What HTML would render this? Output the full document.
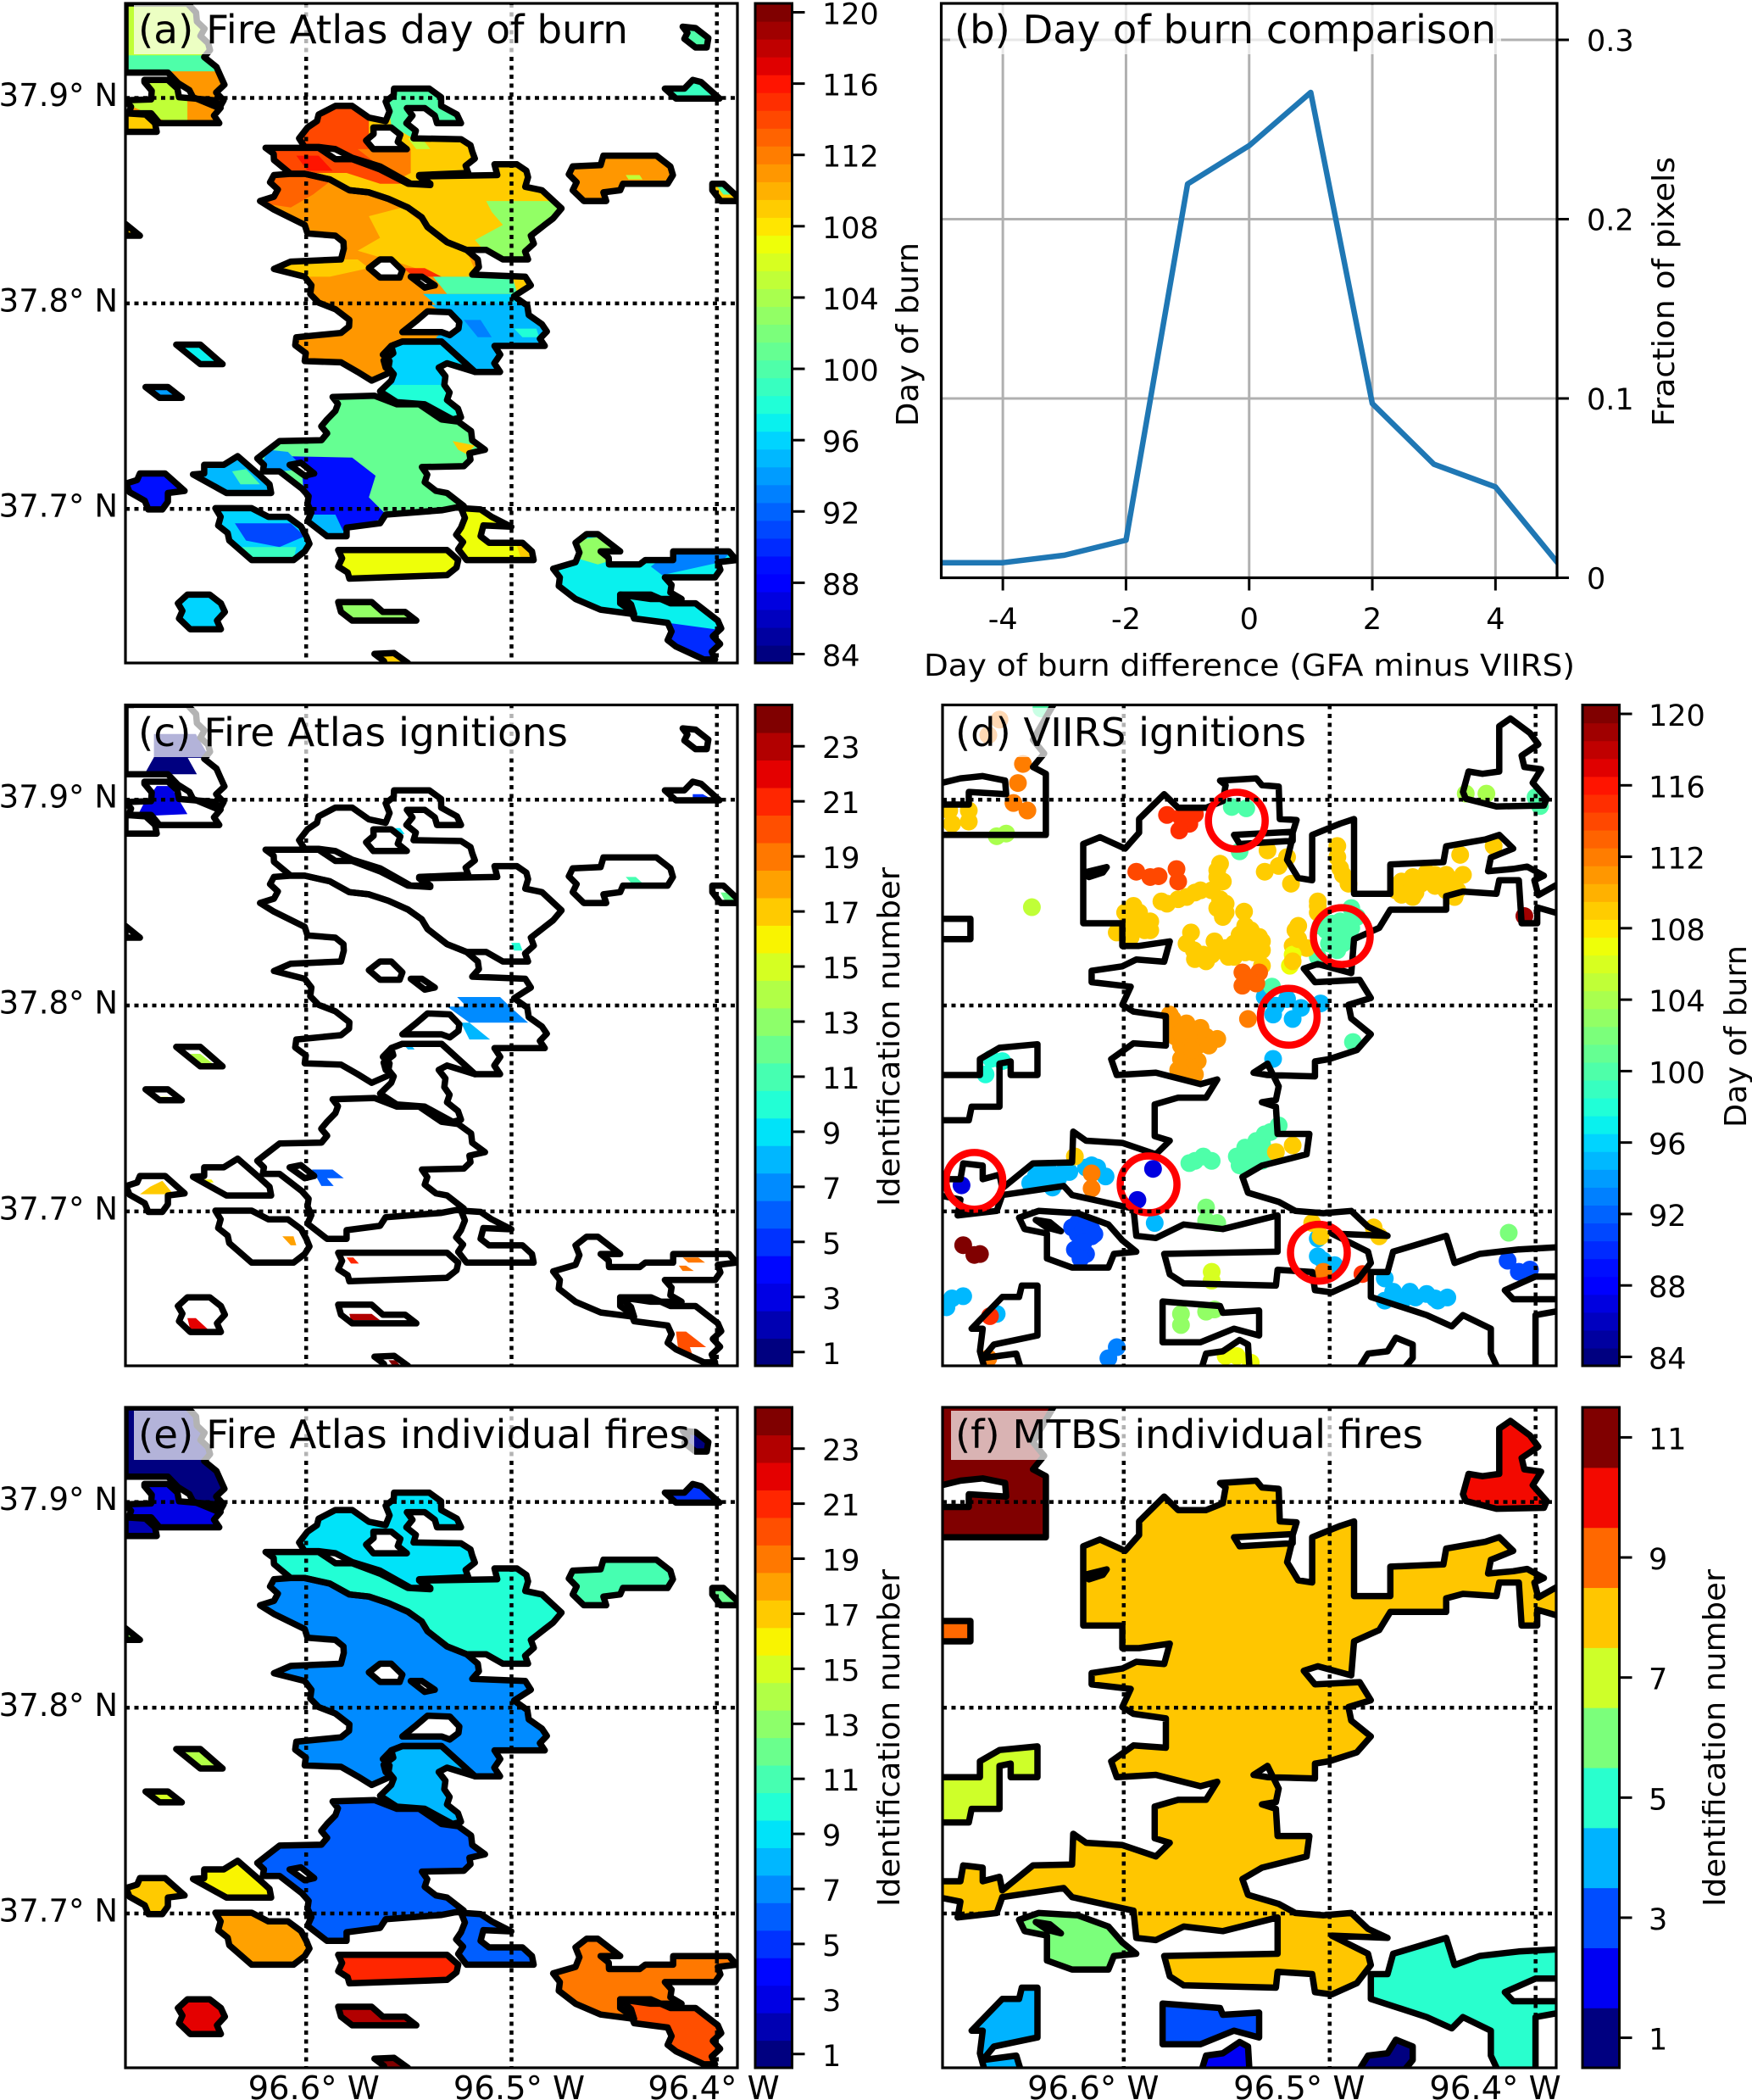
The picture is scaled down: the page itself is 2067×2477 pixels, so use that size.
<!DOCTYPE html>
<html lang="en">
<head>
<meta charset="utf-8">
<title>Fire Atlas and VIIRS / MTBS comparison</title>
<style>
html,body{margin:0;padding:0;background:#fff;width:2067px;height:2477px;overflow:hidden}
svg{display:block}
text{font-family:"DejaVu Sans","Liberation Sans",sans-serif;fill:#000}
.ttl{font-size:46px}
.lab{font-size:36px}
</style>
</head>
<body>
<svg xmlns="http://www.w3.org/2000/svg" width="2067" height="2477" viewBox="0 0 2067 2477">
<defs>
<clipPath id="clip-a"><rect x="148" y="4" width="722" height="778"/></clipPath>
<clipPath id="clip-b"><rect x="1110.5" y="4" width="726.5" height="677.5"/></clipPath>
<clipPath id="clip-c"><rect x="148" y="831.5" width="722" height="779.5"/></clipPath>
<clipPath id="clip-d"><rect x="1112" y="831.5" width="724" height="779.5"/></clipPath>
<clipPath id="clip-e"><rect x="148" y="1660" width="722" height="779"/></clipPath>
<clipPath id="clip-f"><rect x="1112" y="1660" width="724" height="779"/></clipPath>
</defs>

<g>
<g id="marks-a" clip-path="url(#clip-a)"></g>
<rect x="158" y="6" width="588" height="58" fill="#fff" fill-opacity="0.7"/>
<text class="ttl" x="163" y="51" textLength="578" lengthAdjust="spacingAndGlyphs">(a) Fire Atlas day of burn</text>
<rect x="148" y="4" width="722" height="778" fill="none" stroke="#000" stroke-width="3.2"/>
</g>

<g>
<g id="marks-b" clip-path="url(#clip-b)"></g>
<rect x="1121" y="6" width="650" height="58" fill="#fff" fill-opacity="0.7"/>
<text class="ttl" x="1126" y="51" textLength="639" lengthAdjust="spacingAndGlyphs">(b) Day of burn comparison</text>
<rect x="1110.5" y="4" width="726.5" height="677.5" fill="none" stroke="#000" stroke-width="3.2"/>
<text class="lab" x="1474" y="797" text-anchor="middle" textLength="768" lengthAdjust="spacingAndGlyphs">Day of burn difference (GFA minus VIIRS)</text>
<text class="lab" transform="translate(1083 503) rotate(-90)" textLength="217" lengthAdjust="spacingAndGlyphs">Day of burn</text>
<text class="lab" transform="translate(1975 503) rotate(-90)" textLength="318" lengthAdjust="spacingAndGlyphs">Fraction of pixels</text>
</g>

<g>
<g id="marks-c" clip-path="url(#clip-c)"></g>
<rect x="158" y="835" width="516" height="58" fill="#fff" fill-opacity="0.7"/>
<text class="ttl" x="163" y="880" textLength="507" lengthAdjust="spacingAndGlyphs">(c) Fire Atlas ignitions</text>
<rect x="148" y="831.5" width="722" height="779.5" fill="none" stroke="#000" stroke-width="3.2"/>
<text class="lab" transform="translate(1061 1423) rotate(-90)" textLength="400" lengthAdjust="spacingAndGlyphs">Identification number</text>
</g>

<g>
<g id="marks-d" clip-path="url(#clip-d)"></g>
<rect x="1122" y="835" width="424" height="58" fill="#fff" fill-opacity="0.7"/>
<text class="ttl" x="1127" y="880" textLength="414" lengthAdjust="spacingAndGlyphs">(d) VIIRS ignitions</text>
<rect x="1112" y="831.5" width="724" height="779.5" fill="none" stroke="#000" stroke-width="3.2"/>
<text class="lab" transform="translate(2060 1330) rotate(-90)" textLength="215" lengthAdjust="spacingAndGlyphs">Day of burn</text>
</g>

<g>
<g id="marks-e" clip-path="url(#clip-e)"></g>
<rect x="158" y="1664" width="661" height="58" fill="#fff" fill-opacity="0.7"/>
<text class="ttl" x="163" y="1708" textLength="651" lengthAdjust="spacingAndGlyphs">(e) Fire Atlas individual fires</text>
<rect x="148" y="1660" width="722" height="779" fill="none" stroke="#000" stroke-width="3.2"/>
<text class="lab" transform="translate(1061 2249) rotate(-90)" textLength="398" lengthAdjust="spacingAndGlyphs">Identification number</text>
</g>

<g>
<g id="marks-f" clip-path="url(#clip-f)"></g>
<rect x="1122" y="1664" width="560" height="58" fill="#fff" fill-opacity="0.7"/>
<text class="ttl" x="1127" y="1708" textLength="552" lengthAdjust="spacingAndGlyphs">(f) MTBS individual fires</text>
<rect x="1112" y="1660" width="724" height="779" fill="none" stroke="#000" stroke-width="3.2"/>
<text class="lab" transform="translate(2035 2249) rotate(-90)" textLength="398" lengthAdjust="spacingAndGlyphs">Identification number</text>
</g>

<g id="axes"></g>
</svg>

<script>
/* ---------- panel (b) data ---------- */
const diffDays = [-5,-4,-3,-2,-1,0,1,2,3,4,5];
const pixelFractions = [0.0084,0.0084,0.0126,0.021,0.2196,0.241,0.2707,0.0972,0.0633,0.0507,0.0087];
const diffTicks = [-4,-2,0,2,4];
const fractionTicks = [0,0.1,0.2,0.3];
const fractionTickLabels = ['0','0.1','0.2','0.3'];

/* ---------- map axis ticks ---------- */
const lonTicks = [-96.6,-96.5,-96.4];
const lonTickLabels = ['96.6° W','96.5° W','96.4° W'];
const latTicks = [37.9,37.8,37.7];
const latTickLabels = ['37.9° N','37.8° N','37.7° N'];
const dayTicks = [84,88,92,96,100,104,108,112,116,120];
const idTicks24 = [1,3,5,7,9,11,13,15,17,19,21,23];
const idTicks11 = [1,3,5,7,9,11];

/* ---------- Fire Atlas perimeters, map-grid units (column, row), rings flattened ---------- */
const atlasFire1 = [[224,8,335,8,352,50,372,100,365,132,395,178,392,250,345,225,318,192,300,168,224,168]];
const atlasFire2 = [[258,190,258,185,300,185,320,225,385,232,392,285,285,285,270,262,230,262,224,232,270,230]];
const atlasFire3 = [[224,262,260,265,280,305,224,305]];
const atlasFire4 = [[705,205,768,205,825,285,782,285,760,250,728,250,740,320,825,322,845,350,838,400,750,405,770,425,735,425,680,385,630,365,600,345,570,340,545,340,535,320,550,295,570,265,600,245,630,245,660,272,690,280,690,235],[668,295,700,295,728,345,668,345,655,325]];
const atlasFire5 = [[475,342,570,342,600,368,630,368,680,392,730,425,770,428,750,408,890,405,885,380,925,380,945,410,940,432,970,440,1005,482,990,505,975,520,950,545,945,600,900,600,870,578,835,578,800,560,765,525,730,480,695,460,660,445,625,440,590,415,545,402,520,402,490,370]];
const atlasFire6 = [[490,405,520,402,545,402,590,415,625,440,660,445,695,460,730,480,765,525,800,560,835,578,855,600,845,635,940,640,950,660,920,685,970,750,975,800,885,800,895,860,850,860,790,790,720,790,700,800,690,850,700,860,665,880,640,860,610,838,545,835,530,780,610,770,625,740,600,715,570,700,555,680,545,640,490,622,520,605,610,600,615,575,600,545,550,540,545,520,490,485,465,465,490,455],[660,620,680,600,700,600,720,625,715,642,680,642],[735,640,755,640,778,660,760,665],[720,768,745,742,765,720,805,722,822,745,805,775,790,768]];
const atlasFire7 = [[720,790,790,790,850,860,800,840,785,850,795,890,800,925,825,965,810,970,760,935,710,930,680,905,700,880,695,850,685,820,700,800]];
const atlasFire8 = [[595,918,670,915,710,935,750,935,790,970,820,975,868,1040,840,1048,830,1078,755,1080,760,1115,780,1135,800,1140,830,1170,790,1180,690,1190,680,1210,620,1220,620,1240,585,1240,550,1205,550,1165,540,1130,500,1090,470,1090,460,1060,480,1040,500,1020,575,1018,585,970,600,950],[518,1075,538,1070,562,1095,545,1100]];
const atlasFire9 = [[825,1175,860,1178,880,1195,915,1218,865,1215,860,1240,875,1255,935,1255,955,1295,835,1295,820,1270,825,1220]];
const atlasFire10 = [[1080,360,1175,360,1200,385,1195,425,1115,425,1110,440,1080,445,1085,465,1045,465,1025,440,1025,385,1075,382]];
const atlasFire11 = [[1275,425,1295,425,1320,455,1325,465,1290,465,1275,440]];
const atlasFire12 = [[224,518,250,545,224,545]];
const atlasFire13 = [[1222,62,1245,65,1268,88,1265,110,1245,110,1225,90]];
const atlasFire14 = [[1190,205,1225,205,1240,185,1255,190,1288,228,1210,228]];
const atlasFire15 = [[315,797,358,797,398,842,358,842]];
const atlasFire16 = [[260,895,300,895,325,920,285,920]];
const atlasFire17 = [[225,1118,245,1110,250,1095,295,1095,330,1135,300,1140,300,1160,290,1178,265,1178]];
const atlasFire18 = [[345,1097,365,1095,365,1075,400,1075,425,1055,465,1100,485,1140,405,1140]];
const atlasFire19 = [[385,1175,450,1175,480,1195,515,1195,548,1240,545,1275,525,1295,450,1295,410,1250,390,1215]];
const atlasFire20 = [[605,1272,800,1272,820,1295,800,1330,625,1338,605,1310]];
const atlasFire21 = [[990,1315,1030,1300,1030,1255,1050,1235,1070,1235,1110,1275,1075,1275,1090,1305,1145,1305,1155,1295,1205,1295,1205,1275,1305,1275,1318,1295,1285,1300,1280,1335,1190,1335,1200,1370,1220,1385,1165,1385,1110,1375,1135,1420,1075,1410,1030,1385,1000,1355]];
const atlasFire22 = [[1110,1375,1165,1375,1200,1395,1245,1395,1285,1435,1280,1525,1260,1525,1210,1495,1195,1480,1195,1440,1135,1430,1110,1395]];
const atlasFire23 = [[318,1395,335,1375,375,1375,395,1395,395,1455,340,1455,320,1430]];
const atlasFire24 = [[605,1392,665,1392,685,1415,725,1415,745,1435,630,1435,610,1415]];
const atlasFire25 = [[670,1512,705,1510,730,1533,730,1545,690,1545]];
const atlasOutlines = [atlasFire1,atlasFire2,atlasFire3,atlasFire4,atlasFire5,atlasFire6,atlasFire7,atlasFire8,atlasFire9,atlasFire10,atlasFire11,atlasFire12,atlasFire13,atlasFire14,atlasFire15,atlasFire16,atlasFire17,atlasFire18,atlasFire19,atlasFire20,atlasFire21,atlasFire22,atlasFire23,atlasFire24,atlasFire25];

/* identification number per Fire Atlas fire (panel e) */
const atlasFireIds = [1,3,2,9,10,7,8,6,6,11,12,13,1,5,14,15,17,16,18,21,19,20,22,23,24];
/* base day of burn per Fire Atlas fire (panel a) */
const atlasFireDays = [105,111,109,109,109,111,96,101,107,111,109,109,100,99,97,94,89,95,96,107,97,97,96,103,109];

/* day-of-burn patches inside a fire: [fire index, day, ring] (panel a) */
const atlasDayPatches = [
[0,100,[224,128,370,128,395,170,224,170]],
[0,111,[300,165,395,165,395,250,345,225,320,195]],
[1,105,[255,190,300,185,335,230,335,280,295,280,225,240,265,230]],
[3,114,[530,240,660,240,660,345,680,385,720,410,640,380,580,345,530,345]],
[3,112,[640,345,735,345,735,400,720,410,680,385]],
[3,100,[690,200,830,200,830,290,750,300,745,325,700,290]],
[3,105,[730,320,755,320,770,345,745,345]],
[4,114,[470,340,570,340,600,368,630,368,680,392,730,425,680,425,620,400,550,400,510,400]],
[4,116,[530,360,570,360,595,395,550,395]],
[4,103,[870,465,1010,465,1010,510,950,600,880,600,850,555,900,520,880,490]],
[5,113,[485,405,545,405,590,420,560,450,520,480,470,470]],
[5,109,[660,500,720,480,765,525,835,580,855,640,790,640,720,610,640,580,680,550]],
[5,109,[490,600,640,600,660,620,590,640,500,640]],
[5,115,[722,620,760,620,790,640,740,640]],
[5,100,[775,640,945,640,955,665,915,680,800,680]],
[5,109,[918,645,945,645,945,675,925,675]],
[5,96,[757,680,930,680,930,700,780,705]],
[5,95,[770,705,930,700,985,760,985,805,905,805,905,870,845,870,780,780,820,745,790,720]],
[5,93,[830,740,860,740,880,780,855,780]],
[5,98,[920,760,960,760,965,780,935,780]],
[6,98,[680,890,800,890,830,970,760,940,700,930]],
[7,89,[540,1085,510,1055,630,1058,672,1100,660,1150,695,1195,620,1225,580,1240,545,1170]],
[7,94,[480,1040,515,1045,545,1085,500,1090,465,1080]],
[7,109,[810,1020,850,1030,835,1050,820,1040]],
[7,95,[550,1190,600,1190,620,1245,580,1245]],
[8,109,[925,1262,950,1262,950,1290,932,1290]],
[9,105,[1120,405,1145,405,1150,415,1125,415]],
[10,100,[1280,425,1300,425,1318,450,1295,450]],
[17,100,[415,1090,440,1085,465,1120,430,1120]],
[18,91,[420,1210,520,1210,545,1240,500,1265,440,1250]],
[18,99,[430,1265,530,1265,525,1295,450,1295]],
[20,103,[1030,1250,1080,1240,1110,1290,1070,1305,1030,1290]],
[20,93,[1200,1275,1310,1275,1290,1300,1185,1330,1165,1310]],
[21,90,[1195,1440,1280,1455,1285,1525,1260,1525,1195,1490]]
];

/* ignition patches: [identification number, ring] (panel c) */
const atlasIgnitions = [
[1,[275,75,350,75,375,130,275,130]],
[1,[275,129,335,129,352,168,258,168]],
[3,[280,195,305,195,335,260,245,265,255,240]],
[5,[1240,214,1258,214,1275,226,1240,226]],
[9,[707,292,716,292,724,306,716,306]],
[11,[1120,405,1138,405,1150,419,1130,419]],
[12,[1290,441,1300,441,1320,461,1298,461]],
[10,[915,557,930,557,935,575,920,575]],
[7,[818,682,895,682,915,707,945,741,840,741,800,704,835,704]],
[8,[825,741,840,741,877,780,840,780]],
[8,[722,792,735,792,742,803,730,803]],
[6,[558,1080,595,1080,615,1100,585,1100,597,1118,575,1118,565,1095]],
[14,[340,813,358,813,380,835,358,835]],
[15,[282,912,300,912,306,918,288,918]],
[17,[268,1120,290,1106,310,1137,250,1137]],
[16,[362,1103,378,1103,382,1110,368,1110]],
[18,[505,1234,525,1234,530,1255,520,1255]],
[21,[620,1283,632,1283,642,1297,628,1297]],
[23,[625,1413,665,1413,680,1428,628,1428]],
[22,[335,1423,350,1423,372,1449,340,1449]],
[19,[1222,1283,1250,1283,1262,1295,1232,1295]],
[19,[1215,1302,1228,1302,1242,1314,1222,1314]],
[20,[1210,1454,1228,1454,1264,1490,1235,1490,1240,1510,1215,1505]],
[24,[695,1520,708,1520,716,1532,702,1532]]
];

/* ---------- MTBS perimeters, map-grid units ---------- */
const mtbsFire1 = [[860,1510,880,1470,915,1465,930,1435,960,1450,960,1480,940,1510]];
const mtbsFire2 = [[580,1510,590,1470,620,1465,650,1440,665,1450,668,1510]];
const mtbsFire3 = [[512,1355,615,1365,620,1380,685,1375,685,1430,640,1415,580,1445,512,1445]];
const mtbsFire4 = [[170,1415,225,1345,255,1345,260,1320,288,1320,288,1430,210,1450,190,1480,250,1470,260,1510,195,1510,185,1465,190,1415]];
const mtbsFire5 = [[925,1245,1020,1210,1035,1270,1080,1250,1150,1240,1225,1235,1225,1300,1180,1300,1125,1330,1140,1350,1225,1350,1225,1375,1180,1385,1180,1510,1115,1510,1100,1470,1100,1415,1050,1385,1030,1410,985,1385,885,1345,885,1290,915,1290]];
const mtbsFire6 = [[255,1170,290,1155,360,1160,415,1185,440,1220,465,1245,425,1250,415,1280,350,1280,305,1260,305,1205,265,1195],[285,1175,310,1180,330,1200,305,1192]];
const mtbsFire7 = [[110,855,185,855,185,820,220,795,288,787,288,855,240,855,240,825,220,830,220,925,170,925,165,955,110,955]];
const mtbsFire8 = [[615,205,680,200,690,215,720,218,722,290,752,292,745,320,742,345,735,380,755,420,780,425,780,325,830,300,855,290,855,455,920,455,920,390,1015,385,1020,350,1090,335,1115,325,1140,355,1100,375,1095,405,1140,400,1165,395,1195,415,1178,425,1185,458,1225,430,1225,500,1183,485,1183,520,1155,520,1150,425,1115,425,1110,455,1050,450,1020,460,1020,490,920,490,900,530,855,555,850,630,790,610,765,620,785,650,865,645,885,685,845,700,850,730,885,765,860,800,810,820,785,825,785,858,700,855,675,850,700,830,720,880,715,910,690,915,715,925,718,985,775,985,770,1030,690,1055,655,1080,665,1115,720,1135,750,1155,800,1160,850,1155,880,1190,915,1210,815,1205,880,1245,885,1270,860,1310,815,1335,785,1330,780,1290,718,1285,715,1320,550,1315,525,1295,515,1250,718,1245,718,1165,620,1195,550,1185,500,1215,465,1210,460,1150,350,1120,335,1100,225,1120,215,1155,145,1165,150,1130,110,1120,110,1085,150,1085,155,1050,190,1055,190,1085,220,1075,225,1105,280,1050,350,1048,352,980,375,1000,440,1005,500,1030,525,1000,498,990,498,920,540,905,590,905,610,865,580,875,500,850,430,855,420,820,460,785,518,790,518,725,460,715,440,700,455,660,385,650,385,625,440,615,465,600,515,605,525,560,470,570,440,570,440,520,370,520,370,345,400,330,445,355,470,320,470,290,515,235,540,265,590,265,620,250,625,215],[640,325,745,318,745,338,650,345],[372,408,412,396,405,408,380,418]];
const mtbsFire9 = [[110,510,168,510,168,555,110,555]];
const mtbsFire10 = [[1115,85,1135,68,1170,100,1185,125,1155,150,1160,175,1190,180,1175,210,1200,245,1195,260,1110,262,1055,245,1050,230,1060,185,1085,190,1115,185]];
const mtbsFire11 = [[110,30,320,30,280,115,300,145,280,175,303,190,303,325,110,325,110,258,165,258,165,230,232,235,230,205,190,195,150,200,110,212]];
const mtbsOutlines = [mtbsFire1,mtbsFire2,mtbsFire3,mtbsFire4,mtbsFire5,mtbsFire6,mtbsFire7,mtbsFire8,mtbsFire9,mtbsFire10,mtbsFire11];
const mtbsFireIds = [1,2,3,4,5,6,7,8,9,10,11];

/* ---------- VIIRS ignition detections, map-grid units, grouped by day of burn ---------- */
const viirsDay84to91 = [[87,152,1105],[87,495,1068],[87,467,1138],[91,360,1190],[91,375,1195],[91,385,1220],[91,360,1215],[91,370,1255],[91,355,1250],[91,375,1260],[91,1130,1275],[91,1150,1300],[91,1170,1295],[91,350,1200],[91,370,1205],[91,385,1205],[91,370,1235],[91,390,1215],[91,365,1270]];
const viirsDay93to98 = [[95,695,680],[95,735,685],[95,710,720],[95,715,700],[95,760,705],[95,745,730],[95,795,695],[95,710,820],[98,205,820],[98,195,855],[98,225,825],[95,285,1085],[95,310,1075],[95,335,1075],[95,315,1110],[95,375,1065],[95,395,1065],[95,410,1085],[95,300,1095],[95,498,1190],[95,790,1225],[95,790,1265],[95,820,1285],[95,800,1275],[95,910,1315],[95,925,1345],[95,910,1365],[95,945,1360],[95,965,1358],[95,985,1350],[95,1005,1365],[95,1022,1358],[95,135,1360],[95,155,1355],[95,125,1380],[95,215,1395],[93,430,1470],[93,415,1495],[95,275,1100],[95,290,1070],[95,325,1090],[95,345,1075],[95,300,1075],[95,385,1060],[95,1000,1360],[95,930,1355],[95,955,1345]];
const viirsDay100to105 = [[100,295,30],[104,215,318],[104,232,312],[100,636,252],[100,662,255],[100,650,352],[100,815,515],[100,840,515],[100,860,500],[100,850,480],[100,795,520],[100,820,545],[100,845,545],[100,825,575],[100,790,590],[100,830,530],[100,708,657],[100,853,782],[100,570,1050],[100,600,1050],[100,650,1045],[100,665,1035],[100,680,1005],[100,695,990],[100,720,970],[100,660,1065],[100,690,1050],[100,660,1020],[102,590,1155],[102,590,1185],[102,610,1190],[102,1132,1212],[104,1055,222],[104,1092,222],[100,1188,250],[100,1180,230],[105,278,478],[103,545,1395],[103,545,1420],[103,590,1390],[103,605,1385],[100,650,1060],[100,670,1055],[100,680,1020],[100,700,1030],[100,690,1010],[100,705,985],[100,645,1040],[100,585,1040],[100,560,1055],[100,830,510],[100,805,530],[100,835,560],[100,810,560],[100,850,525]];
const viirsDay106to109 = [[109,130,260],[109,165,260],[109,135,290],[109,165,285],[109,700,350],[109,695,398],[109,720,385],[109,735,365],[109,742,425],[109,825,340],[109,825,365],[109,830,390],[109,845,425],[109,940,420],[109,940,450],[109,965,445],[109,985,400],[109,1010,410],[109,1030,425],[109,1050,405],[109,1045,360],[109,1105,340],[109,1035,455],[109,960,410],[109,1000,430],[109,615,380],[109,610,410],[109,620,420],[109,580,440],[109,555,455],[109,540,460],[109,510,465],[109,615,460],[109,625,490],[109,460,475],[109,445,490],[109,470,520],[109,490,510],[109,490,530],[109,450,520],[109,455,545],[109,430,535],[109,658,488],[109,563,535],[109,568,575],[109,570,595],[109,605,555],[109,600,585],[109,640,560],[109,630,590],[109,660,520],[109,660,555],[109,685,545],[109,690,575],[109,790,465],[109,790,490],[109,750,530],[109,745,565],[109,770,570],[109,690,610],[107,740,610],[107,745,585],[109,715,1030],[109,745,1015],[109,355,1040],[109,780,1190],[109,795,1220],[109,890,1200],[109,900,1220],[106,600,1300],[106,600,1320],[107,625,1490],[107,645,1490],[107,670,1505],[109,610,395],[109,600,440],[109,610,480],[109,625,470],[109,620,500],[109,520,470],[109,570,445],[109,470,500],[109,480,530],[109,450,500],[109,470,490],[109,640,590],[109,615,575],[109,585,585],[109,650,540],[109,670,530],[109,675,580],[109,690,555],[109,660,580],[109,555,560],[109,590,600],[109,625,570],[109,950,435],[109,975,425],[109,1020,440],[109,1020,405],[109,1040,440],[109,1000,405],[109,960,455],[109,930,440],[109,835,405],[109,790,475],[109,755,550],[109,745,600],[109,755,520]];
const viirsDay111to120 = [[112,220,55],[112,200,90],[112,262,155],[112,253,198],[112,245,243],[112,270,260],[115,520,270],[115,545,275],[115,570,268],[115,560,290],[115,542,305],[114,465,398],[114,490,410],[114,505,408],[114,537,392],[114,540,420],[113,655,625],[113,685,625],[113,655,655],[113,680,650],[113,665,640],[112,665,730],[111,525,720],[111,535,745],[111,535,770],[111,545,790],[111,545,820],[111,540,845],[111,570,855],[111,575,825],[111,575,790],[111,580,750],[111,610,775],[111,560,770],[112,385,1078],[112,385,1112],[120,155,1240],[120,175,1262],[120,185,1260],[112,800,1300],[115,870,1305],[119,1160,498],[115,203,1400],[112,200,1495],[111,530,730],[111,545,760],[111,550,805],[111,560,840],[111,545,850],[111,565,800],[111,590,770],[111,595,790],[111,555,740]];
const viirsGroups = [viirsDay84to91,viirsDay93to98,viirsDay100to105,viirsDay106to109,viirsDay111to120];

/* mismatch highlights in panel (d), map-grid units */
const highlightRings = [[645,283],[833,543],[738,725],[175,1095],[487,1103],[792,1257]];

/* ---------- layout ---------- */
const PANELS = {
  a:{l:148,r:870,t:4,b:782},
  b:{l:1110.5,r:1837,t:4,b:681.5},
  c:{l:148,r:870,t:831.5,b:1611},
  d:{l:1112,r:1836,t:831.5,b:1611},
  e:{l:148,r:870,t:1660,b:2439},
  f:{l:1112,r:1836,t:1660,b:2439}
};
const LON_MIN=-96.688, LON_MAX=-96.39, LAT_MIN=37.625, LAT_MAX=37.946;

/* ---------- helpers ---------- */
const NS='http://www.w3.org/2000/svg';
function svgEl(tag,parent,geom){
  const el=document.createElementNS(NS,tag);
  for(const k in geom){el.setAttribute(k,geom[k]);}
  parent.appendChild(el);
  return el;
}
function lerp(v,a,b,c,d){return c+(v-a)/(b-a)*(d-c);}
/* axis functions */
function lonX(lon,p){return lerp(lon,LON_MIN,LON_MAX,p.l,p.r);}
function latY(lat,p){return lerp(lat,LAT_MAX,LAT_MIN,p.t,p.b);}
function atlasX(u,p){return lerp(u,224,1320,p.l,p.r);}
function atlasY(v,p){return lerp(v,8,1533,p.t,p.b);}
function mtbsX(u,p){return lerp(u,118,1217,p.l,p.r);}
function mtbsY(v,p){return lerp(v,38,1497,p.t,p.b);}
function viirsY(v,p){return lerp(v,22,1512,p.t,p.b);}
function diffX(d){return lerp(d,-5,5,PANELS.b.l,PANELS.b.r);}
function fracY(f){return lerp(f,0,0.3,681.5,47);}

function jet(t){
  function seg(pts){
    for(let i=1;i<pts.length;i++){
      if(t<=pts[i][0]){return pts[i-1][1]+(t-pts[i-1][0])/(pts[i][0]-pts[i-1][0])*(pts[i][1]-pts[i-1][1]);}
    }
    return pts[pts.length-1][1];
  }
  const r=seg([[0,0],[.35,0],[.66,1],[.89,1],[1,.5]]);
  const g=seg([[0,0],[.125,0],[.375,1],[.64,1],[.91,0],[1,0]]);
  const b=seg([[0,.5],[.11,1],[.34,1],[.65,0],[1,0]]);
  return 'rgb('+Math.round(r*255)+','+Math.round(g*255)+','+Math.round(b*255)+')';
}
function dayColor(d){return jet((d-84)/36);}
function id24Color(i){return jet((i-1)/23);}
function id11Color(i){return jet((i-1)/10);}

/* grid-edge staircase: Fire Atlas perimeters follow raster cells, so steep edges are scalloped */
function ringPoints(ring,stairs){
  const out=[];
  const n=ring.length/2;
  for(let i=0;i<n;i++){
    const u0=ring[2*i],v0=ring[2*i+1];
    const u1=ring[(2*((i+1)%n))],v1=ring[(2*((i+1)%n))+1];
    out.push([u0,v0]);
    const du=u1-u0,dv=v1-v0;
    if(stairs&&Math.abs(dv)>=28&&Math.abs(dv)>Math.abs(du)*1.2&&Math.max(u0,u1)>224){
      const steps=Math.max(2,Math.round(Math.abs(dv)/19));
      for(let s=1;s<steps;s++){
        out.push([u0+du*s/steps+(s%2?7:-7),v0+dv*s/steps]);
      }
    }
  }
  return out;
}
function ringsPath(rings,sx,sy,p,stairs){
  let d='';
  rings.forEach(function(ring){
    const pts=ringPoints(ring,stairs);
    pts.forEach(function(pt,i){
      d+=(i?'L':'M')+sx(pt[0],p).toFixed(1)+' '+sy(pt[1],p).toFixed(1);
    });
    d+='Z';
  });
  return d;
}
function drawMapGrid(key,layer){
  const p=PANELS[key];
  lonTicks.forEach(function(lon){
    const ln=svgEl('line',layer,{x1:lonX(lon,p),x2:lonX(lon,p),y1:p.t,y2:p.b,stroke:'#000','stroke-width':4.5,'stroke-dasharray':'5 5.5'});
    
    
  });
  latTicks.forEach(function(lat){
    const ln=svgEl('line',layer,{x1:p.l,x2:p.r,y1:latY(lat,p),y2:latY(lat,p),stroke:'#000','stroke-width':4.5,'stroke-dasharray':'5 5.5'});
    
    
  });
}
function drawOutlines(layer,list,sx,sy,p,stairs){
  list.forEach(function(rings){
    const o=svgEl('path',layer,{d:ringsPath(rings,sx,sy,p,stairs),fill:'none',stroke:'#000','stroke-width':7.5,'stroke-linejoin':'round','stroke-linecap':'round'});
    
    
  });
}

/* ---------- panel (a) ---------- */
(function(){
  const p=PANELS.a,layer=document.getElementById('marks-a');
  atlasOutlines.forEach(function(rings,i){
    const cp=svgEl('clipPath',layer,{id:'atlas-clip-'+i});
    const cpp=svgEl('path',cp,{d:ringsPath(rings,atlasX,atlasY,p,true),'clip-rule':'evenodd'});
    
    
    const f=svgEl('path',layer,{d:ringsPath(rings,atlasX,atlasY,p,true),fill:dayColor(atlasFireDays[i]),'fill-rule':'evenodd'});
    
    
  });
  atlasDayPatches.forEach(function(pt){
    const el=svgEl('path',layer,{d:ringsPath([pt[2]],atlasX,atlasY,p,false),fill:dayColor(pt[1]),'clip-path':'url(#atlas-clip-'+pt[0]+')'});
    
    
  });
  drawOutlines(layer,atlasOutlines,atlasX,atlasY,p,true);
  drawMapGrid('a',layer);
})();

/* ---------- panel (c) ---------- */
(function(){
  const p=PANELS.c,layer=document.getElementById('marks-c');
  atlasIgnitions.forEach(function(pt){
    const el=svgEl('path',layer,{d:ringsPath([pt[1]],atlasX,atlasY,p,false),fill:id24Color(pt[0])});
    
    
  });
  drawOutlines(layer,atlasOutlines,atlasX,atlasY,p,true);
  drawMapGrid('c',layer);
})();

/* ---------- panel (e) ---------- */
(function(){
  const p=PANELS.e,layer=document.getElementById('marks-e');
  atlasOutlines.forEach(function(rings,i){
    const f=svgEl('path',layer,{d:ringsPath(rings,atlasX,atlasY,p,true),fill:id24Color(atlasFireIds[i]),'fill-rule':'evenodd'});
    
    
  });
  drawOutlines(layer,atlasOutlines,atlasX,atlasY,p,true);
  drawMapGrid('e',layer);
})();

/* ---------- panel (d) ---------- */
(function(){
  const p=PANELS.d,layer=document.getElementById('marks-d');
  viirsGroups.forEach(function(group){
    group.forEach(function(pt){
      const c=svgEl('circle',layer,{cx:mtbsX(pt[1],p),cy:viirsY(pt[2],p),r:10.5,fill:dayColor(pt[0])});
      
      
    });
  });
  drawOutlines(layer,mtbsOutlines,mtbsX,mtbsY,p,false);
  highlightRings.forEach(function(pt){
    const e=svgEl('ellipse',layer,{cx:mtbsX(pt[0],p),cy:viirsY(pt[1],p),rx:33.5,ry:33.5,fill:'none',stroke:'#f00','stroke-width':8.5});
    
    
  });
  drawMapGrid('d',layer);
})();

/* ---------- panel (f) ---------- */
(function(){
  const p=PANELS.f,layer=document.getElementById('marks-f');
  mtbsOutlines.forEach(function(rings,i){
    const f=svgEl('path',layer,{d:ringsPath(rings,mtbsX,mtbsY,p,false),fill:id11Color(mtbsFireIds[i]),'fill-rule':'evenodd'});
    
    
  });
  drawOutlines(layer,mtbsOutlines,mtbsX,mtbsY,p,false);
  drawMapGrid('f',layer);
})();

/* ---------- axes: ticks, labels and colorbars ---------- */
(function(){
  const axes=document.getElementById('axes');
  const pb=PANELS.b;
  diffTicks.forEach(function(d){
    const t=svgEl('line',axes,{x1:diffX(d),x2:diffX(d),y1:pb.b,y2:pb.b+15,stroke:'#000','stroke-width':3});
    
    
    const l=svgEl('text',axes,{x:diffX(d),y:742,'text-anchor':'middle','font-size':35});
    l.textContent=String(d);
    
    
  });
  fractionTicks.forEach(function(f,i){
    const t=svgEl('line',axes,{x1:pb.r,x2:pb.r+14,y1:fracY(f),y2:fracY(f),stroke:'#000','stroke-width':3});
    
    
    const l=svgEl('text',axes,{x:1872,y:fracY(f)+13,'font-size':35});
    l.textContent=fractionTickLabels[i];
    
    
  });
  ['a','c','e'].forEach(function(k){
    const p=PANELS[k];
    latTicks.forEach(function(lat,i){
      const l=svgEl('text',axes,{x:139,y:latY(lat,p)+9.5,'text-anchor':'end','font-size':37});
      l.textContent=latTickLabels[i];
      
      
    });
  });
  /* longitude labels: offset from the gridline differs between left and right columns */
  lonTicks.forEach(function(lon,i){
    const l=svgEl('text',axes,{x:i===2?842:lonX(lon,PANELS.e)+9,y:2476,'text-anchor':'middle','font-size':38.5});
    l.textContent=lonTickLabels[i];
    
    
  });
  lonTicks.forEach(function(lon,i){
    const l=svgEl('text',axes,{x:i===2?1764:lonX(lon,PANELS.f)-36,y:2476,'text-anchor':'middle','font-size':38.5});
    l.textContent=lonTickLabels[i];
    
    
  });

  function colorbar(key,x0,x1,vmin,vmax,ticks,colorFn,textX){
    const p=PANELS[key];
    function y(v){return lerp(v,vmin-0.5,vmax+0.5,p.b,p.t);}
    for(let v=vmin;v<=vmax;v++){
      const r=svgEl('rect',axes,{x:x0,width:x1-x0,y:y(v+0.5),height:y(v-0.5)-y(v+0.5)+0.6,fill:colorFn(v)});
      
      
    }
    const f=svgEl('rect',axes,{x:x0,width:x1-x0,y:p.t,height:p.b-p.t,fill:'none',stroke:'#000','stroke-width':3});
    
    
    ticks.forEach(function(v){
      const t=svgEl('line',axes,{x1:x1,x2:x1+15,y1:y(v),y2:y(v),stroke:'#000','stroke-width':3});
      
      
      const l=svgEl('text',axes,{x:textX,y:y(v)+14,'font-size':35});
      l.textContent=String(v);
      
      
    });
  }
  colorbar('a',891,934.5,84,120,dayTicks,dayColor,970);
  colorbar('c',891,934.5,1,24,idTicks24,id24Color,970);
  colorbar('e',891,934.5,1,24,idTicks24,id24Color,970);
  colorbar('d',1867,1910.5,84,120,dayTicks,dayColor,1945);
  colorbar('f',1867,1910.5,1,11,idTicks11,id11Color,1945);
})();

/* ---------- panel (b) marks ---------- */
(function(){
  const p=PANELS.b,layer=document.getElementById('marks-b');
  diffTicks.forEach(function(d){
    const g=svgEl('line',layer,{x1:diffX(d),x2:diffX(d),y1:p.t,y2:p.b,stroke:'#b0b0b0','stroke-width':3});
    
    
  });
  fractionTicks.forEach(function(f){
    const g=svgEl('line',layer,{x1:p.l,x2:p.r,y1:fracY(f),y2:fracY(f),stroke:'#b0b0b0','stroke-width':3});
    
    
  });
  const pts=diffDays.map(function(d,i){return diffX(d).toFixed(1)+','+fracY(pixelFractions[i]).toFixed(1);}).join(' ');
  const line=svgEl('polyline',layer,{points:pts,fill:'none',stroke:'#1f77b4','stroke-width':6.5,'stroke-linejoin':'round','stroke-linecap':'square'});
  
  
})();
</script>
</body>
</html>
